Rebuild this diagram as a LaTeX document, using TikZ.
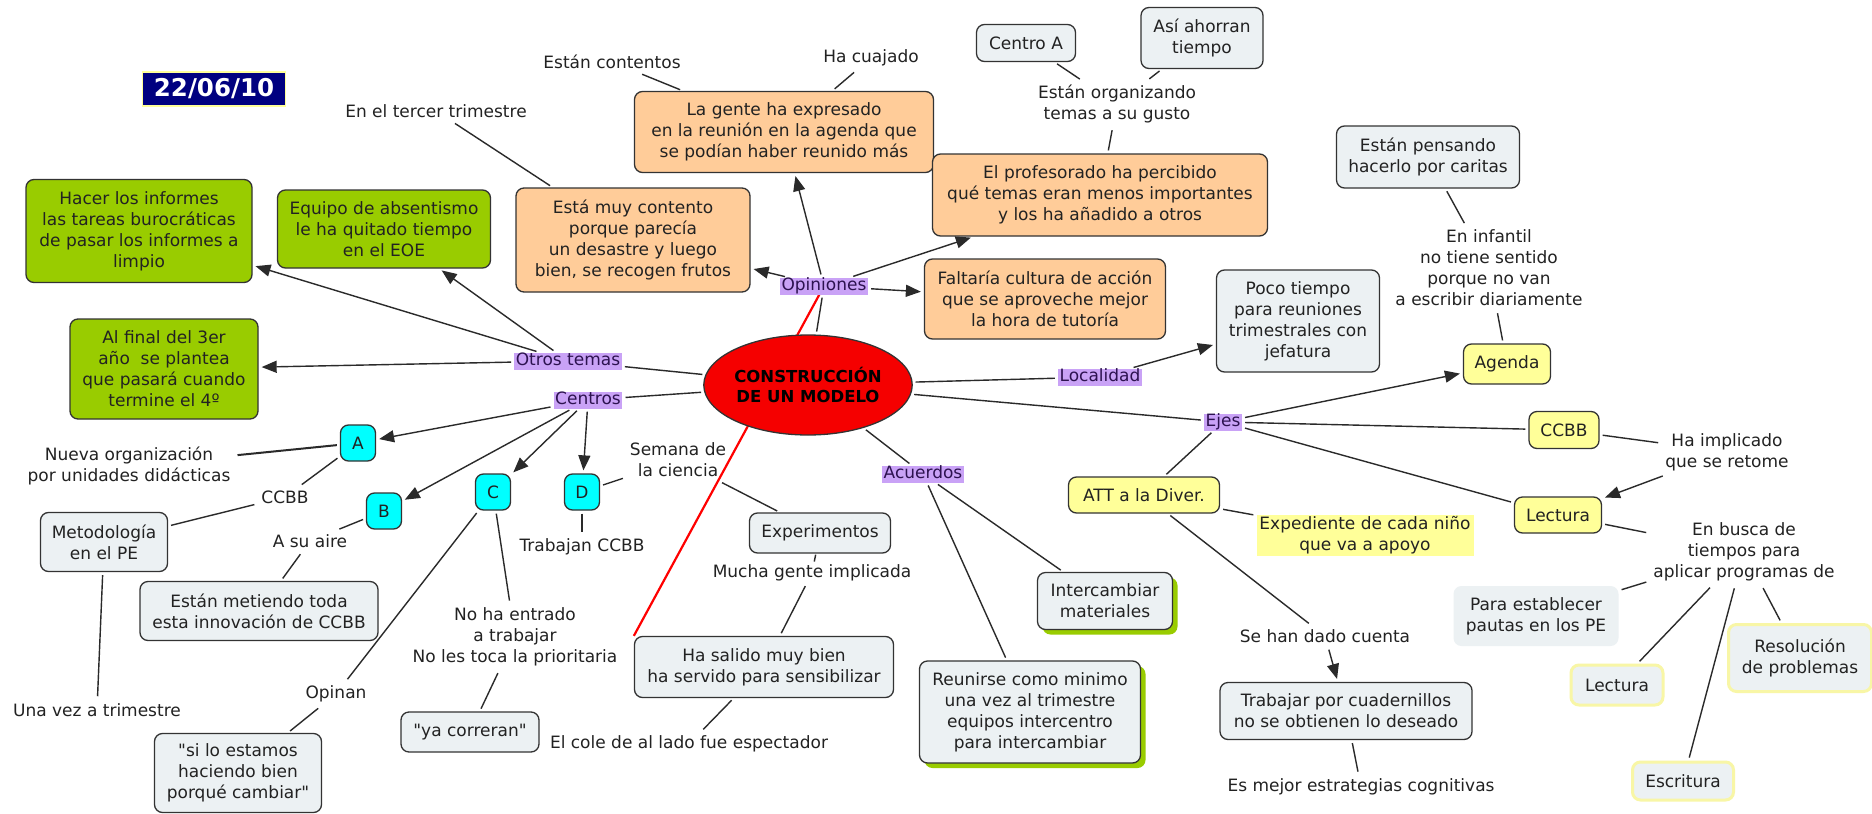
\documentclass[tikz,border=0pt]{standalone}
\usepackage{fontspec}
\setmainfont{DejaVu Sans}[Ligatures=TeXOff]
\usetikzlibrary{arrows.meta,shadows,backgrounds,shapes.geometric}

\definecolor{ink}{HTML}{222222}
\definecolor{edge}{HTML}{333333}
\definecolor{lnk}{HTML}{2A2A2A}
\definecolor{leaf}{HTML}{99CC00}
\definecolor{peach}{HTML}{FFCC99}
\definecolor{mist}{HTML}{ECF1F3}
\definecolor{lemon}{HTML}{FFFF99}
\definecolor{aqua}{HTML}{00FFFF}
\definecolor{lav}{HTML}{C9A2F6}
\definecolor{lavtxt}{HTML}{2D1250}
\definecolor{navybox}{HTML}{000080}
\definecolor{core}{HTML}{F50000}
\definecolor{paleedge}{HTML}{F8F6A6}

\begin{document}
\begin{tikzpicture}[x=1pt,y=-1pt,
  every node/.style={font=\fontsize{17}{21}\selectfont, text=ink, align=center},
  box/.style={rectangle, rounded corners=8pt, draw=edge, line width=1.3pt, inner sep=2pt},
  greenbox/.style={box, fill=leaf},
  peachbox/.style={box, fill=peach},
  mistbox/.style={box, fill=mist},
  lemonbox/.style={box, fill=lemon},
  aquabox/.style={box, fill=aqua, minimum width=35pt, minimum height=36pt},
  palebox/.style={box, fill=mist, draw=paleedge, line width=3pt},
  shadowbox/.style={mistbox, drop shadow={fill=leaf, opacity=1, shadow xshift=5pt, shadow yshift=-5pt}},
  lbl/.style={fill=lav, text=lavtxt, inner xsep=1.5pt, inner ysep=0pt, text height=13pt, text depth=4pt},
  plain/.style={inner sep=4pt},
  link/.style={draw=lnk, line width=1.4pt, shorten <=3pt, shorten >=3pt},
  arr/.style={link, -{Triangle[length=15pt,width=12pt]}},
  redlink/.style={draw=red, line width=2.2pt},
]
\begin{pgfonlayer}{background}
  \fill[white] (0,0) rectangle (1872,814);
\end{pgfonlayer}
\useasboundingbox (0,0) rectangle (1872,814);

% date tag
\node[fill=navybox, draw=lemon, line width=1.5pt, minimum width=143pt, minimum height=34pt, inner sep=0pt,
      text=white, font=\fontsize{24.5}{28}\selectfont\bfseries] (fecha) at (214,89) {22/06/10};

% central concept
\node[ellipse, fill=core, draw=edge, line width=1.3pt, minimum width=200pt, minimum height=100pt,
      inner sep=0pt, font=\fontsize{16.5}{20.5}\selectfont\bfseries, text=black] (modelo) at (808,385)
      {CONSTRUCCIÓN\\DE UN MODELO};

% linking labels on the main branches
\node[lbl] (otros) at (568,361) {Otros temas};
\node[lbl] (centros) at (588,400) {Centros};
\node[lbl] (opiniones) at (824,286) {Opiniones};
\node[lbl] (localidad) at (1100,377) {Localidad};
\node[lbl] (ejes) at (1223,422) {Ejes};
\node[lbl] (acuerdos) at (923,474) {Acuerdos};

% other topics
\node[greenbox, minimum width=226pt, minimum height=103pt] (hacer) at (139,231)
  {Hacer los informes\\las tareas burocráticas\\de pasar los informes a\\limpio};
\node[greenbox, minimum width=213pt, minimum height=78pt] (equipo) at (384,229)
  {Equipo de absentismo\\le ha quitado tiempo\\en el EOE};
\node[greenbox, minimum width=188pt, minimum height=100pt] (alfinal) at (164,369)
  {Al final del 3er\\año\ \ se plantea\\que pasará cuando\\termine el 4º};

% opinions
\node[peachbox, minimum width=234pt, minimum height=104pt] (contento) at (633,240)
  {Está muy contento\\porque parecía\\un desastre y luego\\bien, se recogen frutos};
\node[peachbox, minimum width=299pt, minimum height=81pt] (gente) at (784,132)
  {La gente ha expresado\\en la reunión en la agenda que\\se podían haber reunido más};
\node[peachbox, minimum width=335pt, minimum height=82pt] (profesorado) at (1100,195)
  {El profesorado ha percibido\\qué temas eran menos importantes\\y los ha añadido a otros};
\node[peachbox, minimum width=241pt, minimum height=80pt] (faltaria) at (1045,299)
  {Faltaría cultura de acción\\que se aproveche mejor\\la hora de tutoría};
\node[plain] (contentos) at (612,62) {Están contentos};
\node[plain] (cuajado) at (871,58) {Ha cuajado};
\node[plain] (tercer) at (436,111) {En el tercer trimestre};
\node[plain] (organizando) at (1117,104) {Están organizando\\temas a su gusto};
\node[mistbox, minimum width=99pt, minimum height=37pt] (centroA) at (1026,43) {Centro A};
\node[mistbox, minimum width=122pt, minimum height=61pt] (asi) at (1202,38) {Así ahorran\\tiempo};

% locality
\node[mistbox, minimum width=163pt, minimum height=102pt] (poco) at (1298,321)
  {Poco tiempo\\para reuniones\\trimestrales con\\jefatura};

% axes
\node[lemonbox, minimum width=87pt, minimum height=40pt] (agenda) at (1507,364) {Agenda};
\node[lemonbox, minimum width=70pt, minimum height=37pt] (ccbbE) at (1564,430) {CCBB};
\node[lemonbox, minimum width=87pt, minimum height=36pt] (lectura) at (1558,515) {Lectura};
\node[lemonbox, minimum width=151pt, minimum height=36pt] (att) at (1144,495) {ATT a la Diver.};
\node[fill=lemon, minimum width=217pt, minimum height=41pt, inner sep=1pt] (expediente) at (1365,535)
  {Expediente de cada niño\\que va a apoyo};
\node[mistbox, minimum width=183pt, minimum height=62pt] (pensando) at (1428,157)
  {Están pensando\\hacerlo por caritas};
\node[plain] (infantil) at (1489,268) {En infantil\\no tiene sentido\\porque no van\\a escribir diariamente};
\node[plain] (implicado) at (1727,452) {Ha implicado\\que se retome};
\node[plain] (busca) at (1744,552) {En busca de\\tiempos para\\aplicar programas de};
\node[rectangle, rounded corners=8pt, fill=mist, minimum width=165pt, minimum height=60pt] (establecer)
  at (1536,616) {Para establecer\\pautas en los PE};
\node[palebox, minimum width=92pt, minimum height=40pt] (lectura2) at (1617,685) {Lectura};
\node[palebox, minimum width=101pt, minimum height=38pt] (escritura) at (1683,781) {Escritura};
\node[palebox, minimum width=143pt, minimum height=67pt] (resolucion) at (1800,658)
  {Resolución\\de problemas};
\node[plain] (handado) at (1325,636) {Se han dado cuenta};
\node[mistbox, minimum width=252pt, minimum height=57pt] (trabajar) at (1346,711)
  {Trabajar por cuadernillos\\no se obtienen lo deseado};
\node[plain] (esmejor) at (1361,787) {Es mejor estrategias cognitivas};

% agreements
\node[shadowbox, minimum width=135pt, minimum height=57pt] (intercambiar) at (1105,601)
  {Intercambiar\\materiales};
\node[shadowbox, minimum width=221pt, minimum height=102pt] (reunirse) at (1030,712)
  {Reunirse como minimo\\una vez al trimestre\\equipos intercentro\\para intercambiar};

% schools
\node[aquabox] (A) at (358,443) {A};
\node[aquabox] (B) at (384,511) {B};
\node[aquabox] (C) at (493,492) {C};
\node[aquabox] (D) at (582,492) {D};
\node[plain] (nueva) at (129,466) {Nueva organización\\por unidades didácticas};
\node[plain] (ccbbA) at (285,497) {CCBB};
\node[mistbox, minimum width=127pt, minimum height=59pt] (metodologia) at (104,542) {Metodología\\en el PE};
\node[plain] (unavez) at (97,710) {Una vez a trimestre};
\node[plain] (asuaire) at (310,541) {A su aire};
\node[mistbox, minimum width=238pt, minimum height=59pt] (metiendo) at (259,611)
  {Están metiendo toda\\esta innovación de CCBB};
\node[plain] (opinan) at (336,694) {Opinan};
\node[mistbox, minimum width=167pt, minimum height=79pt] (silo) at (238,773)
  {"si lo estamos\\haciendo bien\\porqué cambiar"};
\node[plain] (noha) at (515,637) {No ha entrado\\a trabajar\\No les toca la prioritaria};
\node[mistbox, minimum width=138pt, minimum height=40pt] (yacorreran) at (470,732) {"ya correran"};
\node[plain] (trabajanccbb) at (582,547) {Trabajan CCBB};
\node[plain] (semana) at (678,460) {Semana de\\la ciencia};
\node[mistbox, minimum width=141pt, minimum height=40pt] (experimentos) at (820,533) {Experimentos};
\node[plain, inner ysep=2pt] (mucha) at (812,573) {Mucha gente implicada};
\node[mistbox, minimum width=259pt, minimum height=61pt] (hasalido) at (764,667)
  {Ha salido muy bien\\ha servido para sensibilizar};
\node[plain] (elcole) at (689,744) {El cole de al lado fue espectador};

% cross link behind the centre
\begin{pgfonlayer}{background}
  \draw[redlink] (opiniones) -- (hasalido.north west);
\end{pgfonlayer}

% main branches
\draw[link] (modelo) -- (otros);
\draw[link] (modelo) -- (centros);
\draw[link] (modelo) -- (opiniones);
\draw[link] (modelo) -- (localidad);
\draw[link] (modelo) -- (ejes);
\draw[link] (modelo) -- (acuerdos);

% other topics
\draw[arr] (otros) -- (hacer);
\draw[arr] (otros) -- (equipo);
\draw[arr] (otros) -- (alfinal);

% schools
\draw[arr] (centros) -- (A);
\draw[arr] (centros) -- (B);
\draw[arr] (centros) -- (C);
\draw[arr] (centros) -- (D);
\draw[link, line width=2pt] (A) -- (nueva);
\draw[link] (A) -- (ccbbA);
\draw[link] (ccbbA) -- (metodologia);
\draw[link] (metodologia) -- (unavez);
\draw[link] (B) -- (asuaire);
\draw[link] (asuaire) -- (metiendo);
\draw[link] (C) -- (opinan);
\draw[link] (opinan) -- (silo);
\draw[link] (C) -- (noha);
\draw[link] (noha) -- (yacorreran);
\draw[link] (D) -- (trabajanccbb);
\draw[link] (D) -- (semana);
\draw[link] (semana) -- (experimentos);
\draw[link, shorten <=1pt, shorten >=1pt] (experimentos) -- (mucha);
\draw[link] (mucha) -- (hasalido);
\draw[link] (hasalido) -- (elcole);

% opinions
\draw[arr] (opiniones) -- (gente);
\draw[arr] (opiniones) -- (contento);
\draw[arr] (opiniones) -- (profesorado);
\draw[arr] (opiniones) -- (faltaria);
\draw[link] (contentos) -- (gente);
\draw[link] (cuajado) -- (gente);
\draw[link] (tercer) -- (contento);
\draw[link] (centroA) -- (organizando);
\draw[link] (asi) -- (organizando);
\draw[link] (organizando) -- (profesorado);

% locality
\draw[arr] (localidad) -- (poco);

% axes
\draw[arr] (ejes) -- (agenda);
\draw[link] (ejes) -- (ccbbE);
\draw[link] (ejes) -- (lectura);
\draw[link] (ejes) -- (att);
\draw[link] (pensando) -- (infantil);
\draw[link] (infantil) -- (agenda);
\draw[link] (ccbbE) -- (implicado);
\draw[arr] (implicado) -- (lectura);
\draw[link] (lectura) -- (busca);
\draw[link] (busca) -- (establecer);
\draw[link] (busca) -- (lectura2);
\draw[link] (busca) -- (escritura);
\draw[link] (busca) -- (resolucion);
\draw[link] (att) -- (expediente);
\draw[link] (att) -- (handado);
\draw[arr] (handado) -- (trabajar);
\draw[link] (trabajar) -- (esmejor);

% agreements
\draw[link] (acuerdos) -- (intercambiar);
\draw[link] (acuerdos) -- (reunirse);
\end{tikzpicture}
\end{document}
